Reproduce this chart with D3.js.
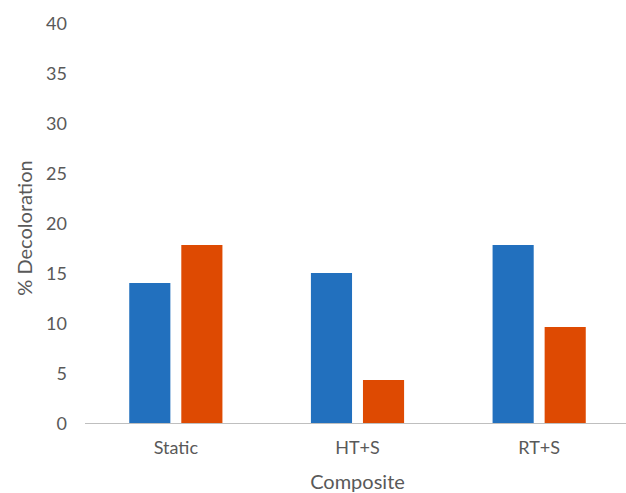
<!DOCTYPE html>
<html>
<head>
<meta charset="utf-8">
<script src="https://cdn.jsdelivr.net/npm/d3@7"></script>
<style>
  body { margin: 0; background: #fff; }
  svg text { font-family: Lato, "Open Sans", sans-serif; fill: #595959; }
</style>
</head>
<body>
<svg id="chart" width="626" height="493"></svg>
<script>
// Decoloration by composite treatment, two series per group
const categories = ["Static", "HT+S", "RT+S"];
const seriesA = [14, 15, 17.8];
const seriesB = [17.8, 4.3, 9.6];
const yTicks = [0, 5, 10, 15, 20, 25, 30, 35, 40];
const colors = ["#2270BE", "#DE4A02"];

const svg = d3.select("#chart");
const x0 = 85, x1 = 630, yTop = 23, yBottom = 423;

const x = d3.scaleBand().domain(categories).range([x0, x1]).paddingInner(0).paddingOuter(0);
const inner = d3.scaleBand().domain([0, 1]).range([0, x.bandwidth()]).paddingInner(0.21).paddingOuter(0.85);
const y = d3.scaleLinear().domain([0, 40]).range([yBottom, yTop]);

const rows = categories.map((c, i) => ({ cat: c, vals: [seriesA[i], seriesB[i]] }));

// bars
const g = svg.append("g");
g.selectAll("g.grp").data(rows).join("g")
  .attr("class", "grp")
  .attr("transform", d => `translate(${x(d.cat)},0)`)
  .selectAll("rect").data(d => d.vals.map((v, k) => ({ v, k })))
  .join("rect")
  .attr("x", d => inner(d.k))
  .attr("width", inner.bandwidth())
  .attr("y", d => y(d.v))
  .attr("height", d => y(0) - y(d.v))
  .attr("fill", d => colors[d.k]);

// x axis baseline
svg.append("line")
  .attr("x1", x0).attr("x2", 626)
  .attr("y1", y(0) + 0.5).attr("y2", y(0) + 0.5)
  .attr("stroke", "#BFBFBF").attr("stroke-width", 1);

// y tick labels
const yAxis = d3.axisLeft(y).tickValues(yTicks).tickSize(0).tickPadding(0);
const ya = svg.append("g").attr("transform", "translate(67,0)").call(yAxis);
ya.select(".domain").remove();
ya.selectAll("text").style("font-size", "18px").attr("fill", "#595959").attr("dy", "0.35em");

// x category labels
const xAxis = d3.axisBottom(x).tickSize(0).tickPadding(0);
const xa = svg.append("g").attr("transform", `translate(0,${y(0)})`).call(xAxis);
xa.select(".domain").remove();
xa.selectAll("text").style("font-size", "18px").attr("fill", "#595959").attr("y", 25).attr("dy", "0.35em");

// axis titles
svg.append("text")
  .attr("x", (x0 + x1) / 2).attr("y", 482)
  .attr("text-anchor", "middle").attr("dy", "0.35em")
  .style("font-size", "20px")
  .text("Composite");

svg.append("text")
  .attr("transform", "translate(25,228) rotate(-90)")
  .attr("text-anchor", "middle").attr("dy", "0.35em")
  .style("font-size", "20px")
  .text("% Decoloration");
</script>
</body>
</html>
